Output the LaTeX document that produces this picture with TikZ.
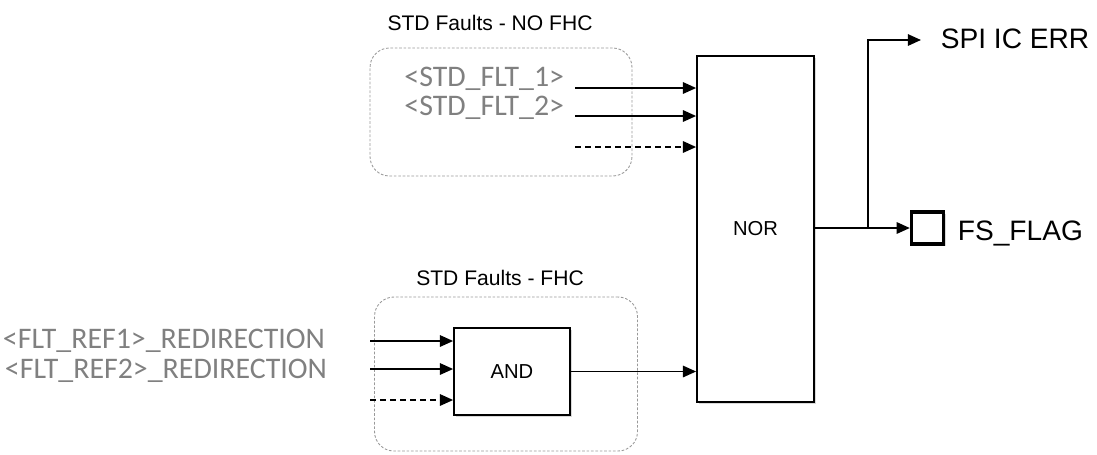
\documentclass[tikz,border=0pt]{standalone}
\usepackage{fontspec}
\setmainfont{Liberation Sans}
\newfontfamily\calibri{Carlito}
\usetikzlibrary{arrows.meta,shadows}

\begin{document}
\begin{tikzpicture}[x=0.02cm, y=-0.02cm, line width=1pt,
    blk/.style={draw, fill=white, line width=1pt, font=\fontsize{11.5}{13}\selectfont,
      drop shadow={shadow xshift=1.3pt, shadow yshift=-1.3pt, opacity=0.3}},
    grp/.style={draw=black!40, dash pattern=on 1.5pt off 1pt, line width=0.5pt, rounded corners=11pt},
    sig/.style={-{Triangle[length=7.5pt,width=6.5pt]}},
    dsig/.style={sig, dash pattern=on 3.4pt off 2.3pt},
    ref/.style={text=black!50, font=\calibri\fontsize{17}{19}\selectfont, inner sep=0pt},
    ttl/.style={font=\fontsize{12}{14}\selectfont, inner sep=0pt},
    outl/.style={font=\fontsize{16}{18}\selectfont, inner sep=0pt}]
    \useasboundingbox (0,0) rectangle (1097,454);

    % groups
    \node[grp, minimum width=5.24cm, minimum height=2.56cm] (nofhc) at (501,112) {};
    \node[grp, minimum width=5.26cm, minimum height=3.08cm] (fhc) at (506,374) {};
    \node[ttl, anchor=base] (nofhcttl) at (490,30) {STD Faults - NO FHC};
    \node[ttl, anchor=base] (fhcttl) at (500,285) {STD Faults - FHC};

    % blocks
    \node[blk, minimum width=2.34cm, minimum height=6.92cm] (nor) at (755.5,229) {NOR};
    \node[blk, minimum width=2.32cm, minimum height=1.74cm] (and) at (512,371.5) {AND};
    \node[blk, line width=1.9pt, minimum size=0.64cm] (flag) at (927.5,228) {};

    % labels
    \node[ref, anchor=base east] (flt1) at (565,86) {<STD\_FLT\_1>};
    \node[ref, anchor=base east] (flt2) at (565,115) {<STD\_FLT\_2>};
    \node[ref, anchor=base east] (ref1) at (326,348) {<FLT\_REF1>\_REDIRECTION};
    \node[ref, anchor=base east] (ref2) at (328,378) {<FLT\_REF2>\_REDIRECTION};
    \node[outl, anchor=base west] (spi) at (940,48) {SPI IC ERR};
    \node[outl, anchor=base west] (fsflag) at (957,240) {FS\_FLAG};

    % inputs
    \foreach \n/\y in {1/88,2/116,3/147}{
        \coordinate (in\n) at (575,\y);
      }
    \foreach \n/\y in {1/341,2/369,3/400}{
        \coordinate (ain\n) at (370,\y);
      }
    \draw[sig] (in1) -- (nor.west |- in1);
    \draw[sig] (in2) -- (nor.west |- in2);
    \draw[dsig] (in3) -- (nor.west |- in3);
    \draw[sig] (ain1) -- (and.west |- ain1);
    \draw[sig] (ain2) -- (and.west |- ain2);
    \draw[dsig] (ain3) -- (and.west |- ain3);
    \draw[sig] (and.east) -- (nor.west |- and.east);

    % outputs
    \coordinate (branch) at (868,228);
    \coordinate (spiin) at (921,40);
    \draw[sig] (nor.east |- flag) -- (flag.west);
    \draw[sig] (branch) |- (spiin);
  \end{tikzpicture}
\end{document}
